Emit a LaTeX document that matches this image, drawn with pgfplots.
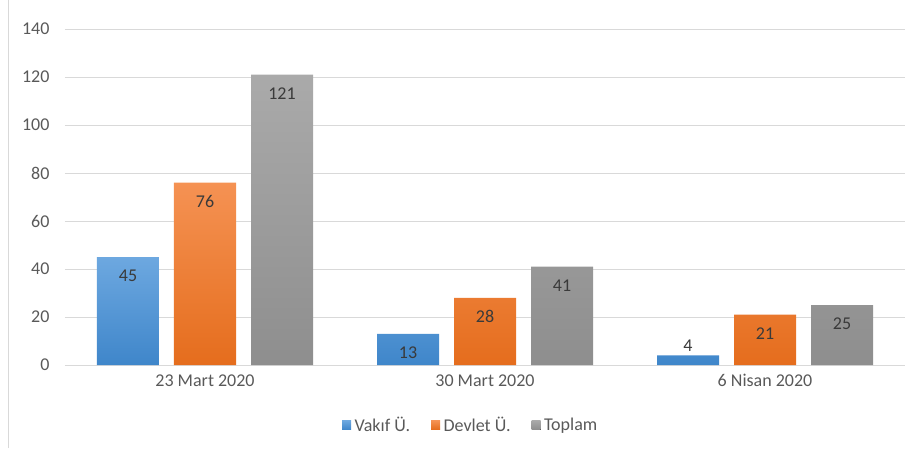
\documentclass[border=0pt]{standalone}
\usepackage{pgfplots}
\pgfplotsset{compat=1.18}
\usepackage{fontspec}
\setmainfont{Carlito}
\definecolor{gridc}{HTML}{D9D9D9}
\definecolor{labc}{HTML}{595959}
\definecolor{valc}{HTML}{3A3A3A}
\definecolor{blueT}{HTML}{6DA8E0}
\definecolor{blueB}{HTML}{3F86CA}
\definecolor{orT}{HTML}{F59253}
\definecolor{orB}{HTML}{E56D1D}
\definecolor{grT}{HTML}{AAAAAA}
\definecolor{grB}{HTML}{8E8E8E}
\begin{document}
\begin{tikzpicture}
\path[use as bounding box] (-65pt,-83pt) rectangle (846pt,365pt);
\draw[gridc, line width=0.8pt] (-57pt,-83pt) -- (-57pt,365pt);
\begin{axis}[
  scale only axis, width=840pt, height=336pt,
  at={(0,0)}, anchor=south west,
  xmin=-0.5, xmax=2.5, ymin=0, ymax=140,
  ytick={0,20,...,140},
  xtick={0,1,2},
  xticklabels={23 Mart 2020,30 Mart 2020,6 Nisan 2020},
  ymajorgrids, grid style={draw=gridc, line width=0.8pt},
  axis line style={draw=none},
  major tick length=0pt,
  ybar=15pt, bar width=62pt,
  tick label style={font=\fontsize{18}{21}\selectfont, text=labc},
  /pgf/number format/assume math mode=true,
  yticklabel style={xshift=-12pt},
  xticklabel style={yshift=-6pt},
  visualization depends on={y \as \rawy},
  nodes near coords,
  every node near coord/.append style={anchor=center, font=\fontsize{18}{21}\selectfont, text=valc, yshift={\rawy<10 ? 10 : -19}},
  legend style={at={(0.483,-0.1786)}, anchor=center, draw=none, fill=none,
    legend columns=-1, font=\fontsize{18}{21}\selectfont, text=labc,
    /tikz/every even column/.append style={column sep=19pt},
    /tikz/every odd column/.append style={column sep=1.5pt}},
  legend image code/.code={\fill[#1] (0pt,-4.5pt) rectangle (9pt,4.5pt);},
]
\addplot[draw=none, top color=blueT, bottom color=blueB] coordinates {(0,45) (1,13) (2,4)};
\addplot[draw=none, top color=orT, bottom color=orB] coordinates {(0,76) (1,28) (2,21)};
\addplot[draw=none, top color=grT, bottom color=grB] coordinates {(0,121) (1,41) (2,25)};
\legend{Vakıf Ü.,Devlet Ü.,Toplam}
\end{axis}
\end{tikzpicture}
\end{document}
